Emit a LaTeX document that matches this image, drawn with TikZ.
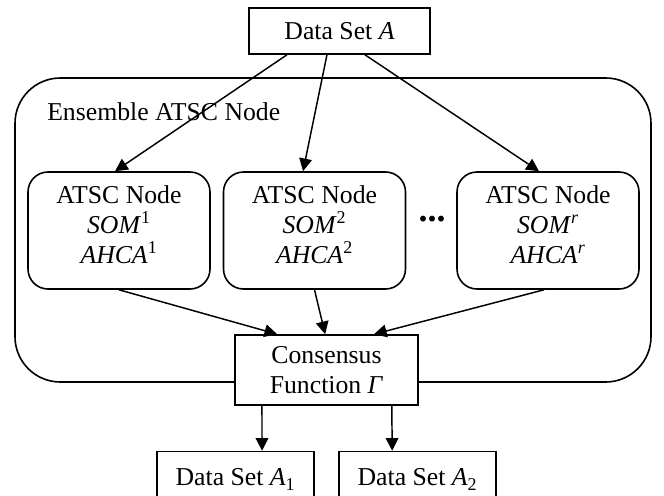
\documentclass[tikz,border=0pt]{standalone}
\usepackage{fontspec}
\setmainfont{Liberation Serif}
\usepackage{tikz}
\usetikzlibrary{arrows.meta}

\begin{document}
\begin{tikzpicture}[x=0.75pt,y=-0.75pt,
        font=\fontsize{19.3}{22.8}\selectfont,
        databox/.style={draw,line width=1.2pt,fill=white,inner sep=0pt,minimum height=34.5pt},
        atscbox/.style={draw,line width=1.2pt,rounded corners=15pt,align=center,inner sep=0pt,
            minimum width=136.5pt,minimum height=87.75pt,text depth=9pt},
        arr/.style={-{Triangle[length=9.5pt,width=9.5pt]},line width=1.1pt}]
        \useasboundingbox (0,0) rectangle (664,496);
        \clip (0,0) rectangle (664,496);
        % ensemble
        \node (ens) [draw,line width=1.2pt,rounded corners=34pt,inner sep=0pt,
            minimum width=477pt,minimum height=228pt] at (333,230) {};
        \node (enslbl) [anchor=base west,inner sep=0pt] at (47,120) {Ensemble ATSC Node};
        \node (dsa) [databox,minimum width=135.75pt] at (339.5,31) {Data Set \textit{A}};
        \node (atsc1) [atscbox] at (119,230.5)
            {ATSC Node\\\textit{SOM}\textsuperscript{1}\\\textit{AHCA}\textsuperscript{1}};
        \node (atsc2) [atscbox] at (314.5,230.5)
            {ATSC Node\\\textit{SOM}\textsuperscript{2}\\\textit{AHCA}\textsuperscript{2}};
        \node (atsc3) [atscbox] at (548,230.5)
            {ATSC Node\\\textit{SOM}\textsuperscript{\textit{r}}\\\textit{AHCA}\textsuperscript{\textit{r}}};
        \node (dots) [inner sep=0pt,font=\fontsize{27}{30}\selectfont\bfseries] at (432,219) {...};
        \node (cons) [databox,align=center,minimum width=137.25pt,minimum height=52.5pt]
            at (326.5,370) {Consensus\\Function \textit{Γ}};
        \node (ds1) [databox,minimum width=117.75pt,minimum height=42pt] at (235.5,479.5)
            {Data Set \textit{A}\textsubscript{1}};
        \node (ds2) [databox,minimum width=117.75pt,minimum height=42pt] at (417.5,479.5)
            {Data Set \textit{A}\textsubscript{2}};
        % arrows
        \draw[arr] ([xshift=-39.4pt]dsa.south) -- ([xshift=-3pt]atsc1.north);
        \draw[arr] ([xshift=-9.4pt]dsa.south) -- ([xshift=-8.6pt]atsc2.north);
        \draw[arr] ([xshift=19.1pt]dsa.south) -- ([xshift=-6.75pt]atsc3.north);
        \draw[arr] (atsc1.south) -- ([xshift=-37pt]cons.north);
        \draw[arr] (atsc2.south) -- ([xshift=-1pt]cons.north);
        \draw[arr] ([xshift=-3pt]atsc3.south) -- ([xshift=35.6pt]cons.north);
        \draw[arr] ([xshift=-48.4pt]cons.south) -- ([xshift=19.9pt]ds1.north);
        \draw[arr] ([xshift=49pt]cons.south) -- ([xshift=-19pt]ds2.north);
    \end{tikzpicture}
\end{document}
